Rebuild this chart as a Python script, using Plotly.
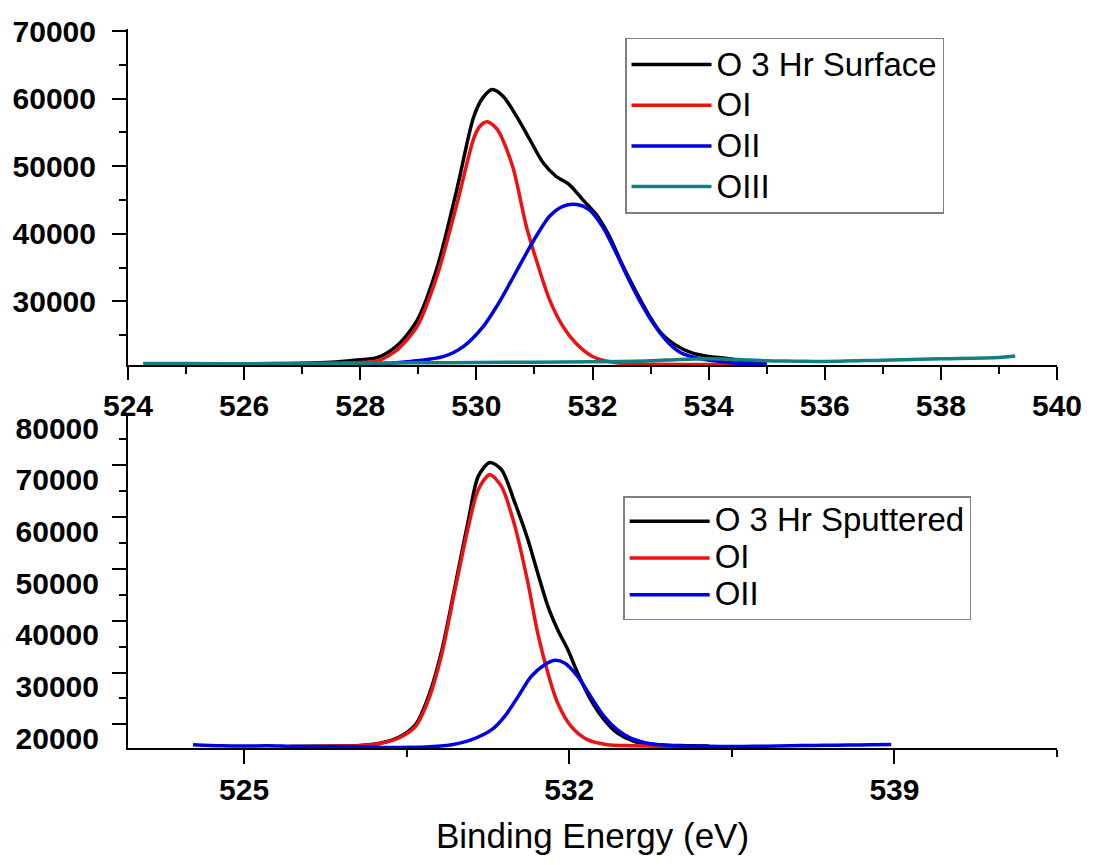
import plotly.graph_objects as go

# ---------------- data ----------------
# Top panel: O 3 Hr Surface
top_E_black = [526.0, 526.5, 527.0, 527.5, 527.9, 528.3, 528.64, 528.98, 529.32, 529.67, 529.95, 530.1,
               530.27, 530.46, 530.69, 530.92, 531.15, 531.37, 531.6, 531.83, 532.06, 532.28, 532.51,
               532.74, 532.97, 533.19, 533.42, 533.7, 534.0, 534.3, 534.6, 535.0]
top_I_black = [20750, 20800, 20850, 21000, 21300, 21700, 23500, 27200, 34900, 46800, 57200, 60000,
               61350, 60360, 57400, 53950, 50500, 48510, 47280, 45060, 42900, 39800, 35500,
               31600, 28000, 25200, 23600, 22400, 21850, 21600, 21200, 20900]

top_E_OI = [526.0, 527.0, 527.5, 528.0, 528.3, 528.64, 528.98, 529.32, 529.67, 529.95, 530.05, 530.18,
            530.3, 530.4, 530.63, 530.86, 531.03, 531.26, 531.49, 531.71, 532.0, 532.28, 532.6, 533.0,
            534.0, 535.0]
top_I_OI = [20700, 20750, 20800, 20950, 21200, 22850, 26300, 33700, 44570, 54000, 55800, 56570,
            56000, 54900, 49800, 41110, 36180, 30250, 26300, 23840, 21850, 21110, 20800, 20700,
            20650, 20600]

top_E_OII = [526.0, 527.0, 528.0, 528.3, 528.87, 529.44, 529.78, 530.12, 530.35, 530.58, 530.8, 531.03,
             531.26, 531.49, 531.73, 531.94, 532.17, 532.4, 532.62, 532.85, 533.08, 533.31, 533.53,
             533.76, 534.2, 534.6, 535.0]
top_I_OII = [20650, 20650, 20700, 20770, 21110, 21850, 23340, 26300, 29260, 32720, 36180, 39630,
             42590, 44070, 44320, 43580, 41110, 37300, 33300, 29500, 26300, 23840, 22360,
             21700, 21100, 20800, 20700]

top_E_OIII = [524.26, 525.0, 526.0, 527.0, 528.0, 529.0, 530.0, 531.0, 532.0, 533.0, 533.5, 534.0,
              534.5, 535.0, 535.5, 536.0, 537.0, 538.0, 539.0, 539.28]
top_I_OIII = [20800, 20800, 20750, 20800, 20850, 20900, 20950, 21000, 21050, 21200, 21400, 21500,
              21400, 21200, 21150, 21100, 21300, 21500, 21700, 21900]

# Bottom panel: O 3 Hr Sputtered
bot_E_black = [526.0, 527.0, 527.48, 527.9, 528.33, 528.69, 528.97, 529.26, 529.54, 529.83, 530.04,
               530.29, 530.54, 530.83, 531.11, 531.32, 531.54, 531.75, 531.97, 532.18, 532.46,
               532.75, 533.03, 533.39, 533.89, 534.53, 535.0]
bot_I_black = [18350, 18450, 18560, 18950, 20130, 22590, 28070, 37100, 49350, 62260, 70640,
               73340, 71930, 65490, 58390, 51940, 45480, 40970, 37100, 32590, 27430,
               23560, 20990, 19360, 18720, 18530, 18450]

bot_E_OI = [526.0, 527.0, 527.48, 527.9, 528.33, 528.69, 528.97, 529.26, 529.54, 529.83, 530.04,
            530.29, 530.54, 530.83, 531.11, 531.32, 531.54, 531.75, 532.04, 532.39, 532.82,
            533.32, 534.0, 534.5]
bot_I_OI = [18300, 18400, 18530, 18910, 20010, 22260, 27430, 36460, 48710, 60960, 68060,
            70960, 68700, 60960, 50010, 40330, 32590, 26790, 22260, 19690, 18720,
            18530, 18400, 18350]

bot_E_OII = [523.9, 524.5, 525.0, 525.5, 526.0, 526.5, 527.0, 527.48, 528.0, 528.9, 529.47, 529.9,
             530.33, 530.61, 530.9, 531.18, 531.47, 531.67, 531.9, 532.18, 532.46, 532.75, 533.03,
             533.32, 533.75, 534.25, 535.0, 535.5, 536.0, 536.5, 537.0, 537.5, 538.0, 538.5, 538.93]
bot_I_OII = [18720, 18500, 18450, 18500, 18400, 18350, 18300, 18250, 18200, 18270, 18720, 19690,
             21620, 24200, 28070, 31940, 34200, 35030, 34530, 31940, 28070, 24200, 21620,
             20010, 18910, 18530, 18400, 18350, 18400, 18450, 18550, 18600, 18650, 18700, 18750]

# Axis tick labels / positions
top_x_ticks = [524, 526, 528, 530, 532, 534, 536, 538, 540]
top_y_ticks = [30000, 40000, 50000, 60000, 70000]
bot_x_ticks = [525, 532, 539]
bot_x_minor = [528.5, 535.5, 542.5]
bot_y_labels = [20000, 30000, 40000, 50000, 60000, 70000, 80000]
bot_y_major_marks = [22650, 32680, 42710, 52740, 62770, 72800]
bot_y_minor_marks = [27660, 37690, 47720, 57750, 67780, 77810]

top_names = ["O 3 Hr Surface", "OI", "OII", "OIII"]
bot_names = ["O 3 Hr Sputtered", "OI", "OII"]

C_BLACK, C_RED, C_BLUE, C_TEAL = "#000000", "#ee1111", "#0000e6", "#118080"
LW = 3.5
FONT = "Liberation Sans, Arial, sans-serif"
LEG_TEXT_PX = 33


def legend_label(name):
    return '<span style="font-size:%dpx">%s</span>' % (LEG_TEXT_PX, name)


fig = go.Figure()


def add(E, I, name, color, xa, ya, leg):
    fig.add_trace(go.Scatter(x=E, y=I, name=legend_label(name), mode="lines",
                             line=dict(color=color, width=LW, shape="spline", smoothing=0.8),
                             xaxis=xa, yaxis=ya, legend=leg))


add(top_E_black, top_I_black, top_names[0], C_BLACK, "x", "y", "legend")
add(top_E_OI, top_I_OI, top_names[1], C_RED, "x", "y", "legend")
add(top_E_OII, top_I_OII, top_names[2], C_BLUE, "x", "y", "legend")
add(top_E_OIII, top_I_OIII, top_names[3], C_TEAL, "x", "y", "legend")

add(bot_E_black, bot_I_black, bot_names[0], C_BLACK, "x2", "y2", "legend2")
add(bot_E_OI, bot_I_OI, bot_names[1], C_RED, "x2", "y2", "legend2")
add(bot_E_OII, bot_I_OII, bot_names[2], C_BLUE, "x2", "y2", "legend2")

# invisible trace to carry the label-only overlay axis
fig.add_trace(go.Scatter(x=[None], y=[None], xaxis="x2", yaxis="y3", showlegend=False,
                         hoverinfo="skip"))

tickfont = dict(family=FONT, size=30, color="black", weight="bold")
axis_common = dict(showline=True, linewidth=2, linecolor="black", showgrid=False, zeroline=False,
                   ticks="outside", tickwidth=2, tickcolor="black", tickfont=tickfont)

top_dom = [0.5321, 1.0]
bot_dom = [0.0, 0.4659]
bot_range = [18080, 82900]

fig.update_layout(
    width=1094, height=865, autosize=False,
    margin=dict(l=128, r=30, t=29, b=117, pad=0),
    paper_bgcolor="white", plot_bgcolor="white",
    font=dict(family=FONT, color="black"),
    xaxis=dict(axis_common, domain=[0, 1], anchor="y", range=[524, 540],
               tickvals=top_x_ticks, ticklen=13,
               minor=dict(dtick=1, tick0=524, ticks="outside", ticklen=7, tickwidth=2, tickcolor="black")),
    yaxis=dict(axis_common, domain=top_dom, anchor="x", range=[20520, 70300],
               tickvals=top_y_ticks, tickformat="d", ticklen=14, ticklabelstandoff=10,
               minor=dict(dtick=5000, tick0=0, ticks="outside", ticklen=7, tickwidth=2, tickcolor="black")),
    xaxis2=dict(axis_common, domain=[0, 1], anchor="y2", range=[522.5, 542.5],
                tickvals=bot_x_ticks, ticklen=14,
                minor=dict(tickvals=bot_x_minor, ticks="outside", ticklen=7, tickwidth=2, tickcolor="black"),
                title=dict(text="Binding Energy (eV)", font=dict(family=FONT, size=35, color="black"),
                           standoff=18)),
    yaxis2=dict(axis_common, domain=bot_dom, anchor="x2", range=bot_range,
                tickvals=bot_y_major_marks, ticklen=14, showticklabels=False,
                minor=dict(tickvals=bot_y_minor_marks, ticks="outside", ticklen=7, tickwidth=2,
                           tickcolor="black")),
    yaxis3=dict(overlaying="y2", anchor="x2", side="left", range=bot_range, showline=False,
                showgrid=False, zeroline=False, ticks="", tickvals=bot_y_labels, tickformat="d",
                tickfont=tickfont, ticklabelstandoff=28),
    legend=dict(x=0.535, y=0.988, xanchor="left", yanchor="top", bgcolor="white",
                bordercolor="#808080", borderwidth=1.5, font=dict(family=FONT, size=29, color="black"),
                itemwidth=80, tracegroupgap=0),
    legend2=dict(x=0.533, y=0.35, xanchor="left", yanchor="top", bgcolor="white",
                 bordercolor="#808080", borderwidth=1.5, font=dict(family=FONT, size=26, color="black"),
                 itemwidth=80, tracegroupgap=0),
)

fig.write_html("out.html")
